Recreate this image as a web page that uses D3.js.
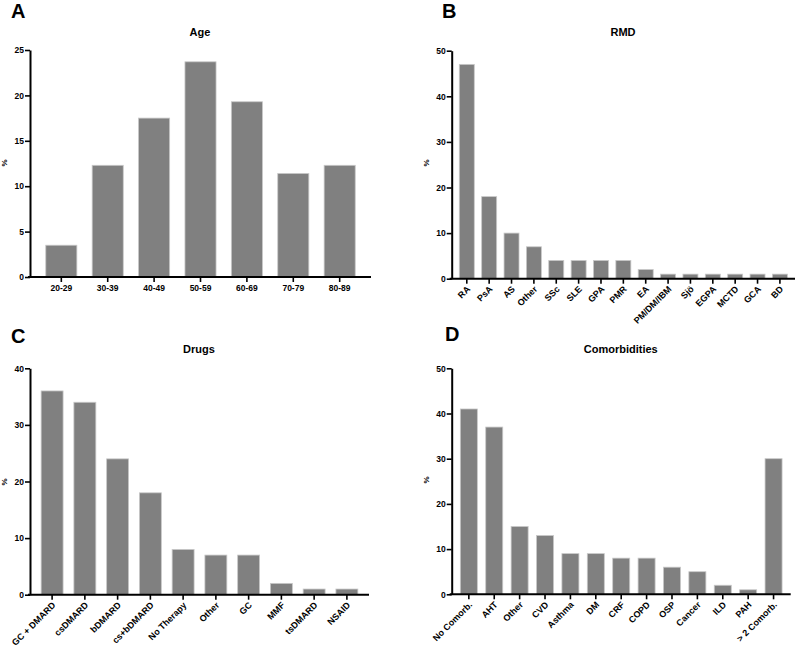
<!DOCTYPE html>
<html>
<head>
<meta charset="utf-8">
<script src="https://cdn.jsdelivr.net/npm/d3@7"></script>
<style>
  html, body { margin: 0; padding: 0; background: #fff; }
  svg { display: block; }
  text { font-family: "Liberation Sans", Arial, sans-serif; font-weight: bold; }
</style>
</head>
<body>
<svg id="chart" width="796" height="647"></svg>
<script>
// ---- Data ----
const ageCategories = ["20-29", "30-39", "40-49", "50-59", "60-69", "70-79", "80-89"];
const ageValues = [3.5, 12.3, 17.5, 23.7, 19.3, 11.4, 12.3];
const ageTicks = [0, 5, 10, 15, 20, 25];

const rmdCategories = ["RA", "PsA", "AS", "Other", "SSc", "SLE", "GPA", "PMR", "EA", "PM/DM/IBM", "Sjö", "EGPA", "MCTD", "GCA", "BD"];
const rmdValues = [47, 18, 10, 7, 4, 4, 4, 4, 2, 1, 1, 1, 1, 1, 1];
const rmdTicks = [0, 10, 20, 30, 40, 50];

const drugCategories = ["GC + DMARD", "csDMARD", "bDMARD", "cs+bDMARD", "No Therapy", "Other", "GC", "MMF", "tsDMARD", "NSAID"];
const drugValues = [36, 34, 24, 18, 8, 7, 7, 2, 1, 1];
const drugTicks = [0, 10, 20, 30, 40];

const comorbCategories = ["No Comorb.", "AHT", "Other", "CVD", "Asthma", "DM", "CRF", "COPD", "OSP", "Cancer", "ILD", "PAH", "> 2 Comorb."];
const comorbValues = [41, 37, 15, 13, 9, 9, 8, 8, 6, 5, 2, 1, 30];
const comorbTicks = [0, 10, 20, 30, 40, 50];

const panelLetters = ["A", "B", "C", "D"];
const panelTitles = ["Age", "RMD", "Drugs", "Comorbidities"];
const yAxisLabel = "%";

// ---- Drawing ----
const svg = d3.select("#chart");

function drawPanel(opt) {
  const g = svg.append("g");
  const x = d3.scaleBand()
    .domain(opt.categories)
    .range([opt.x0, opt.x1])
    .paddingInner(0.33)
    .paddingOuter(0.34);
  const y = d3.scaleLinear()
    .domain([0, d3.max(opt.ticks)])
    .range([opt.y0, opt.yTop]);

  // bars
  g.selectAll("rect.bar")
    .data(opt.values)
    .join("rect")
    .attr("class", "bar")
    .attr("x", (d, i) => x(opt.categories[i]))
    .attr("width", x.bandwidth())
    .attr("y", d => y(d))
    .attr("height", d => opt.y0 - y(d))
    .attr("fill", "#808080")
    .attr("stroke", "#c8c8c8")
    .attr("stroke-width", 0.8);

  // y axis
  const ya = g.append("g")
    .attr("transform", `translate(${opt.x0},0)`)
    .call(d3.axisLeft(y).tickValues(opt.ticks).tickSize(5).tickSizeOuter(0).tickPadding(1));
  ya.select(".domain").attr("stroke", "#000").attr("stroke-width", 2);
  ya.selectAll(".tick line").attr("stroke", "#000").attr("stroke-width", 1.6);
  ya.selectAll(".tick text")
    .attr("font-family", "Liberation Sans, Arial, sans-serif")
    .attr("font-weight", "bold")
    .attr("font-size", 8.5)
    .attr("fill", "#000");

  // x axis
  const xa = g.append("g")
    .attr("transform", `translate(0,${opt.y0})`)
    .call(d3.axisBottom(x).tickSize(5).tickSizeOuter(0));
  xa.select(".domain").attr("stroke", "#000").attr("stroke-width", 2)
    .attr("d", `M${opt.x0 - 2},0H${opt.x1}`);
  xa.selectAll(".tick line").attr("stroke", "#000").attr("stroke-width", 1.6);
  const xt = xa.selectAll(".tick text")
    .attr("font-family", "Liberation Sans, Arial, sans-serif")
    .attr("font-weight", "bold")
    .attr("font-size", opt.rotate ? 9 : 8.5)
    .attr("fill", "#000");
  if (opt.rotate) {
    xt.attr("text-anchor", "end")
      .attr("y", 0).attr("dy", 0)
      .attr("transform", "translate(4,11) rotate(-45)");
  } else {
    xt.attr("y", 8);
  }

  // title
  g.append("text")
    .attr("x", opt.titleX).attr("y", opt.titleY)
    .attr("text-anchor", "middle")
    .attr("font-size", 11)
    .text(opt.title);

  // panel letter
  g.append("text")
    .attr("x", opt.letterX).attr("y", opt.letterY)
    .attr("font-size", 20)
    .text(opt.letter);

  // y label
  g.append("text")
    .attr("transform", `translate(${opt.ylabX},${opt.ylabY}) rotate(-90)`)
    .attr("text-anchor", "middle")
    .attr("font-size", 8)
    .text(yAxisLabel);
}

drawPanel({
  categories: ageCategories, values: ageValues, ticks: ageTicks,
  x0: 30, x1: 371, y0: 277, yTop: 50, rotate: false,
  title: panelTitles[0], titleX: 200, titleY: 36,
  letter: panelLetters[0], letterX: 11, letterY: 17.5,
  ylabX: 7, ylabY: 163
});
drawPanel({
  categories: rmdCategories, values: rmdValues, ticks: rmdTicks,
  x0: 451.7, x1: 795, y0: 278.7, yTop: 50.7, rotate: true,
  title: panelTitles[1], titleX: 623, titleY: 36,
  letter: panelLetters[1], letterX: 442, letterY: 17.5,
  ylabX: 429, ylabY: 163
});
drawPanel({
  categories: drugCategories, values: drugValues, ticks: drugTicks,
  x0: 30, x1: 369, y0: 594.7, yTop: 368.3, rotate: true,
  title: panelTitles[2], titleX: 199, titleY: 353,
  letter: panelLetters[2], letterX: 11, letterY: 342.5,
  ylabX: 7, ylabY: 482
});
drawPanel({
  categories: comorbCategories, values: comorbValues, ticks: comorbTicks,
  x0: 451.7, x1: 790.7, y0: 594.3, yTop: 368.3, rotate: true,
  title: panelTitles[3], titleX: 620.7, titleY: 353,
  letter: panelLetters[3], letterX: 445, letterY: 341,
  ylabX: 429, ylabY: 480
});
</script>
</body>
</html>
